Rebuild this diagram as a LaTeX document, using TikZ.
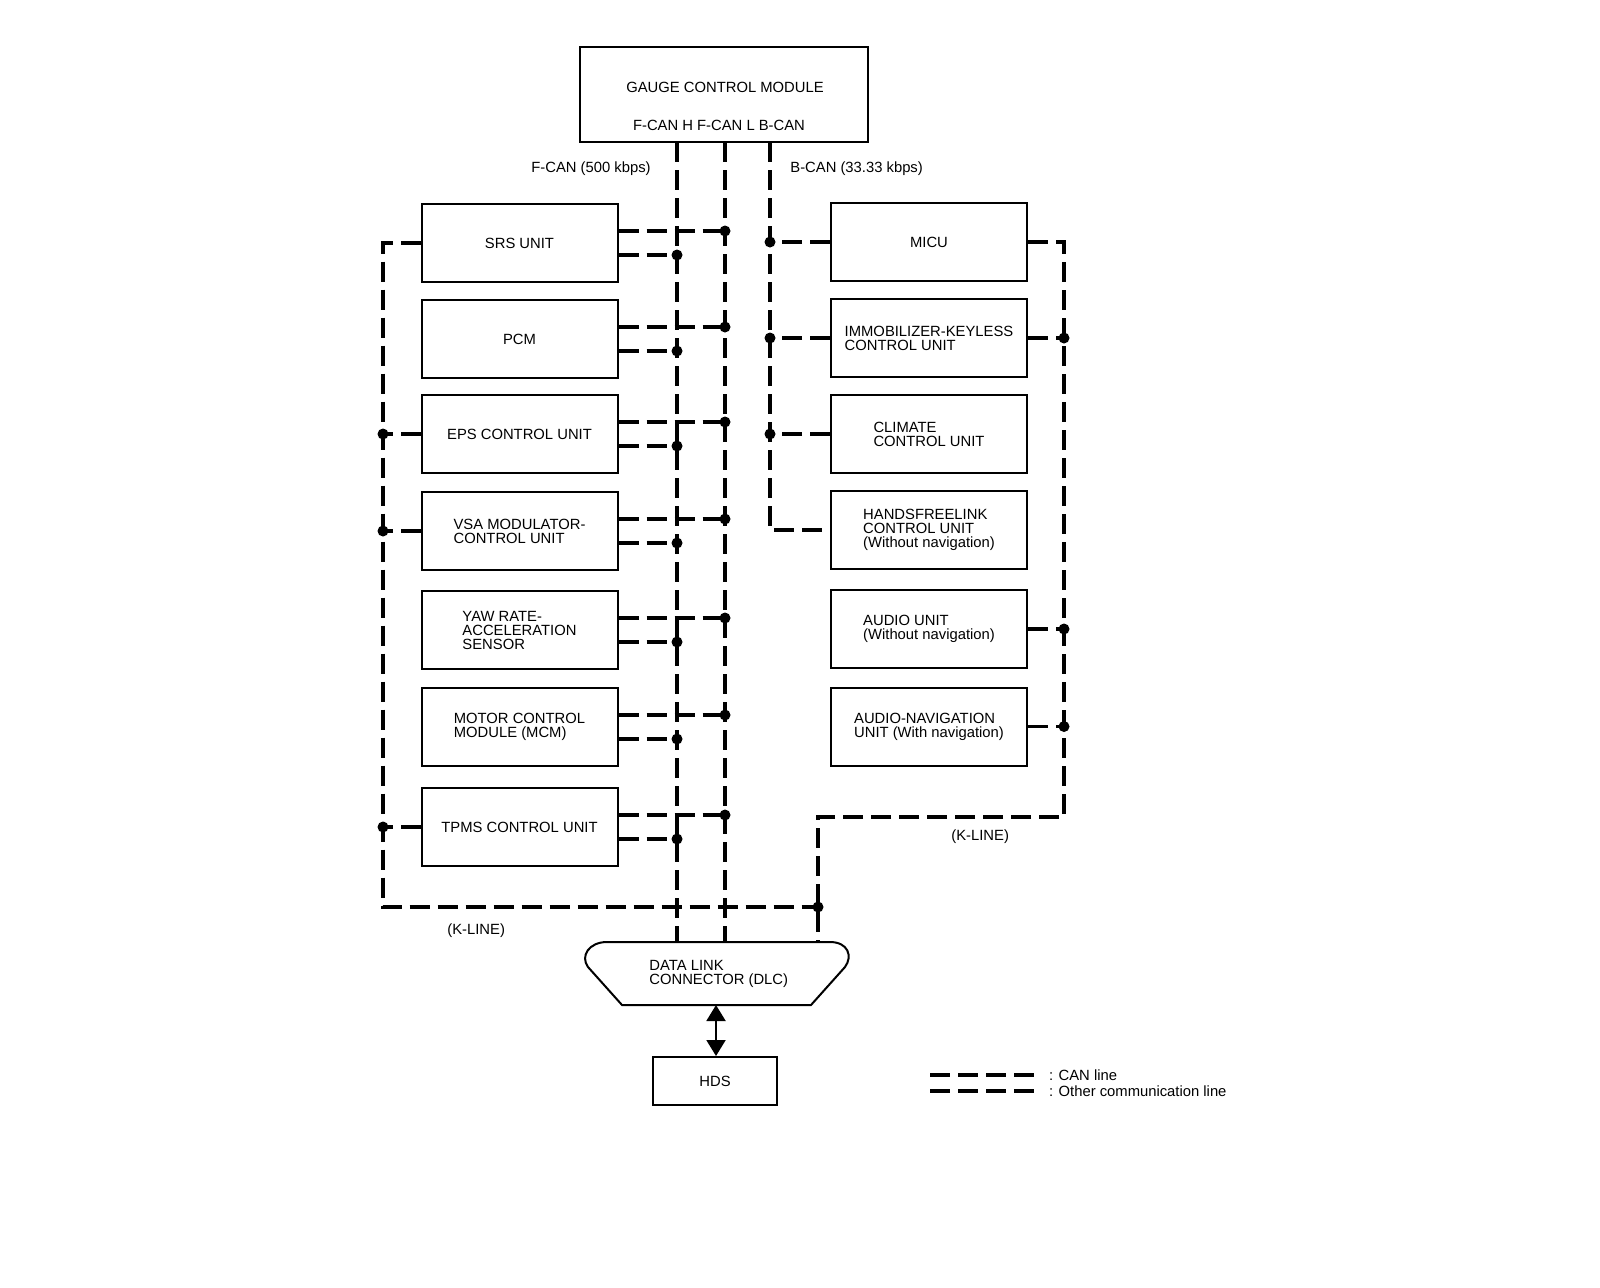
\documentclass[tikz,border=0pt]{standalone}
\usepackage{fontspec}
\setmainfont{Liberation Sans}
\usetikzlibrary{arrows.meta}
\definecolor{inkcol}{HTML}{000000}
\begin{document}
\begin{tikzpicture}[x=0.5pt,y=-0.5pt,
	font=\fontsize{7.4pt}{7pt}\selectfont,text=inkcol,
	unit/.style={draw=inkcol,line width=1pt,minimum width=98pt,minimum height=39pt,align=left,inner sep=0pt},
	bus/.style={draw=inkcol,line width=1.6pt,dash pattern=on 10pt off 4pt},
	dot/.style={circle,fill=inkcol,inner sep=0pt,minimum size=5.5pt}]
\useasboundingbox (0,0) rectangle (1600,1287);
\node[unit,minimum width=144pt,minimum height=47.5pt] (gauge) at (724,94.5) {};
\node (gaugename) at (725,87) {GAUGE CONTROL MODULE};
\node (gaugeports) at (719,125) {F-CAN H F-CAN L B-CAN};
\node[anchor=west,inner sep=0pt] (fcanrate) at (531,169) {F-CAN (500 kbps)};
\node[anchor=west,inner sep=0pt] (bcanrate) at (790,169) {B-CAN (33.33 kbps)};
\coordinate (fh) at (677,142);
\coordinate (fl) at (725,142);
\coordinate (bc) at (770,142);
\coordinate (dlctop) at (716,942);
\coordinate (dlcbot) at (716,1005);
\coordinate (kleft) at (383,907);
\coordinate (kjoin) at (818,907);
\coordinate (kright) at (1064,817);
\foreach \name/\y/\txt in {
	srs/243/SRS UNIT,
	pcm/339/PCM,
	eps/434/EPS CONTROL UNIT,
	vsa/531/{VSA MODULATOR-\\CONTROL UNIT},
	yaw/630/{YAW RATE-\\ACCELERATION\\SENSOR},
	mcm/727/{MOTOR CONTROL\\MODULE (MCM)},
	tpms/827/TPMS CONTROL UNIT%
	}{
	\node[unit] (\name) at (519.5,\y) {\txt};
	\coordinate (\name-hi) at ([yshift=6pt]\name.east);
	\coordinate (\name-lo) at ([yshift=-6pt]\name.east);
	\draw[bus] (\name-hi) -- (\name-hi -| fl) node[dot] (\name-fl) {};
	\draw[bus] (\name-lo) -- (\name-lo -| fh) node[dot] (\name-fh) {};
	}
\foreach \name/\y/\txt in {
	micu/242/MICU,
	immo/338/{IMMOBILIZER-KEYLESS\\CONTROL UNIT},
	climate/434/{CLIMATE\\CONTROL UNIT},
	hands/530/{HANDSFREELINK\\CONTROL UNIT\\(Without navigation)},
	audio/629/{AUDIO UNIT\\(Without navigation)},
	nav/726.5/{AUDIO-NAVIGATION\\UNIT (With navigation)}%
	}{
	\node[unit] (\name) at (929,\y) {\txt};
	}
\draw[bus] (fh) -- (fh |- dlctop);
\draw[bus] (fl) -- (fl |- dlctop);
\draw[bus] (bc) |- (hands.west);
\foreach \name in {micu,immo,climate}
	\draw[bus] (\name.west) -- (\name.west -| bc) node[dot] (\name-bc) {};
\draw[bus] (srs.west) -| (kleft) -- (kjoin);
\foreach \name in {eps,vsa,tpms}
	\draw[bus] (\name.west) -- (\name.west -| kleft) node[dot] (\name-kl) {};
\draw[bus] (micu.east) -| (kright) -| (kjoin |- dlctop);
\node[dot] (kjoindot) at (kjoin) {};
\foreach \name in {immo,audio,nav}
	\draw[bus] (\name.east) -- (\name.east -| kright) node[dot] (\name-kr) {};
\node[anchor=west,inner sep=0pt] (kleftlabel) at (447,931) {(K-LINE)};
\node[anchor=west,inner sep=0pt] (krightlabel) at (951,837) {(K-LINE)};
\draw[draw=inkcol,line width=1pt] (607,942) -- (830,942) .. controls (848,942) and (853,956) .. (845,967) -- (811,1005) -- (622,1005) -- (588,967) .. controls (580,956) and (589,942) .. (607,942) -- cycle;
\node[anchor=west,align=left,inner sep=0pt] (dlc) at (649,974) {DATA LINK\\CONNECTOR (DLC)};
\node[unit,minimum width=62pt,minimum height=24pt,align=center] (hds) at (715,1081) {HDS};
\draw[{Triangle[width=9.5pt,length=8pt]}-{Triangle[width=9.5pt,length=8pt]},draw=inkcol,fill=inkcol,line width=1pt] (dlcbot) -- (dlcbot |- hds.north);
\node[anchor=west] (legcan) at (1042,1075) {: CAN line};
\node[anchor=west] (legother) at (1042,1091) {: Other communication line};
\draw[bus] ([xshift=-56pt]legcan.west) -- ([xshift=-1pt]legcan.west);
\draw[bus] ([xshift=-56pt]legother.west) -- ([xshift=-1pt]legother.west);
\end{tikzpicture}
\end{document}
